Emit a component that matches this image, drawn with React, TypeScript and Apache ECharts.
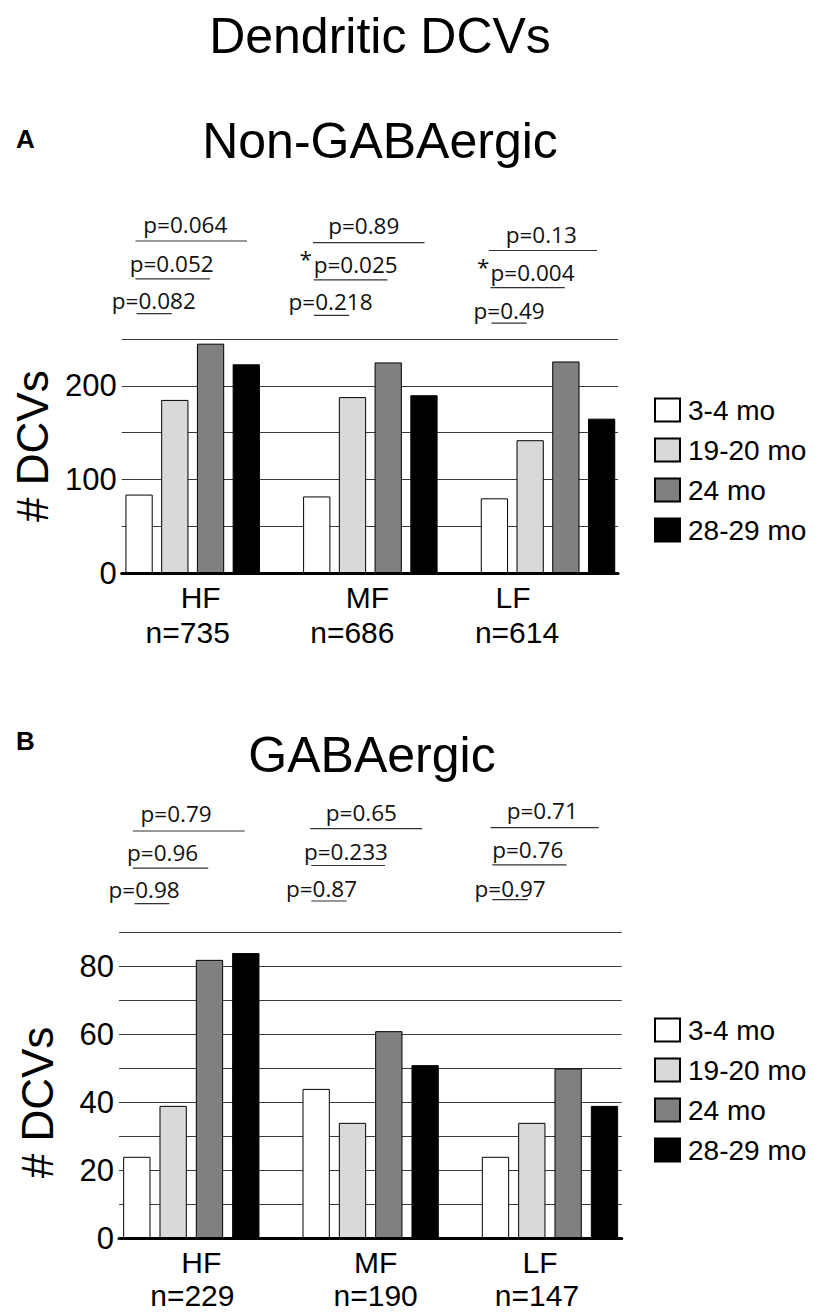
import React, { useEffect, useRef } from "react";
import * as echarts from "echarts";

// ---------------- DATA ----------------
const categories = ["HF", "MF", "LF"];
const ageGroups = ["3-4 mo", "19-20 mo", "24 mo", "28-29 mo"];

// Panel A: Non-GABAergic
const nonGabaN = [735, 686, 614];
const nonGaba3to4 = [84, 82, 80];
const nonGaba19to20 = [185, 188, 142];
const nonGaba24 = [245, 225, 226];
const nonGaba28to29 = [223, 190, 165];
const nonGabaYLabels = [0, 100, 200];
const nonGabaYMax = 250;
const nonGabaYStep = 50;
// per category: comparisons of 3-4 mo vs 19-20, vs 24, vs 28-29
const nonGabaP = [
  ["p=0.082", "p=0.052", "p=0.064"],
  ["p=0.218", "p=0.025", "p=0.89"],
  ["p=0.49", "p=0.004", "p=0.13"],
];
const nonGabaSig = [
  [false, false, false],
  [false, true, false],
  [false, true, false],
];

// Panel B: GABAergic
const gabaN = [229, 190, 147];
const gaba3to4 = [24, 44, 24];
const gaba19to20 = [39, 34, 34];
const gaba24 = [82, 61, 50];
const gaba28to29 = [84, 51, 39];
const gabaYLabels = [0, 20, 40, 60, 80];
const gabaYMax = 90;
const gabaYStep = 10;
const gabaP = [
  ["p=0.98", "p=0.96", "p=0.79"],
  ["p=0.87", "p=0.233", "p=0.65"],
  ["p=0.97", "p=0.76", "p=0.71"],
];
const gabaSig = [
  [false, false, false],
  [false, false, false],
  [false, false, false],
];

const mainTitle = "Dendritic DCVs";
const yAxisTitle = "# DCVs";

// ---------------- STYLE / LAYOUT ----------------
const FONT = '"Liberation Sans", Arial, Helvetica, sans-serif';
const PFONT = '"Open Sans", "Liberation Sans", Arial, sans-serif';
const AGE_COLORS = ["#ffffff", "#d9d9d9", "#808080", "#000000"];
const GRID_COLOR = "#3a3a3a";
const P_SIZE = 22.5;

const layoutA = {
  gridTop: 339,
  gridBottom: 573.3,
  lineLeft: 121.7,
  lineRight: 618,
  barLeft: 103.85,
  barRight: 636.85,
  barCategoryGap: "24.3%",
  barGap: "31%",
  legendTop: 396,
  namePad: [0, 0, 0, 20],
  labelMargin: 7,
  labelLineHeight: 35,
  labelShift: [
    [8, -5],
    [-3, -18],
    [-35, -31],
  ],
  letter: { x: 16, base: 148 },
  title: { x: 380, base: 158 },
  // [textLeft, textBaseline, lineX1, lineX2, lineY, starX]
  ann: [
    [
      [111.8, 309.6, 136.5, 171.7, 313.7, 0],
      [129.7, 272.1, 135.5, 209.9, 278.9, 0],
      [143.3, 233.6, 135.5, 247.1, 241.0, 0],
    ],
    [
      [288.6, 310.3, 313.7, 349.2, 315.4, 0],
      [313.7, 273.1, 313.7, 387.4, 279.9, 299.5],
      [328.2, 234.2, 313.0, 424.5, 242.7, 0],
    ],
    [
      [473.6, 318.7, 491.5, 526.7, 323.1, 0],
      [490.5, 281.6, 490.5, 564.8, 287.6, 477],
      [505.7, 242.7, 488.8, 597.0, 250.5, 0],
    ],
  ],
};

const layoutB = {
  gridTop: 932.7,
  gridBottom: 1238.3,
  lineLeft: 119,
  lineRight: 621.7,
  barLeft: 101.65,
  barRight: 639.65,
  barCategoryGap: "24%",
  barGap: "33%",
  legendTop: 1016,
  namePad: [0, 34, 0, 0],
  labelMargin: 8,
  labelLineHeight: 33,
  labelShift: [
    [10, 1],
    [5, 5],
    [-10, -13],
  ],
  letter: { x: 16, base: 750 },
  title: { x: 372, base: 772 },
  ann: [
    [
      [108.5, 898.6, 134.5, 169.3, 903.7, 0],
      [127.0, 861.4, 132.8, 208.2, 868.2, 0],
      [140.6, 822.5, 132.8, 244.7, 831.0, 0],
    ],
    [
      [285.9, 896.9, 311.3, 346.8, 901.0, 0],
      [303.9, 859.7, 311.3, 385.0, 865.5, 0],
      [325.8, 820.9, 310.3, 422.2, 828.6, 0],
    ],
    [
      [474.6, 896.9, 492.2, 527.7, 899.6, 0],
      [492.2, 858.0, 492.2, 566.5, 864.8, 0],
      [506.7, 819.2, 490.5, 598.6, 827.6, 0],
    ],
  ],
};

const panels = [
  {
    letter: "A",
    title: "Non-GABAergic",
    values: [nonGaba3to4, nonGaba19to20, nonGaba24, nonGaba28to29],
    n: nonGabaN,
    yLabels: nonGabaYLabels,
    yMax: nonGabaYMax,
    yStep: nonGabaYStep,
    p: nonGabaP,
    sig: nonGabaSig,
    L: layoutA,
  },
  {
    letter: "B",
    title: "GABAergic",
    values: [gaba3to4, gaba19to20, gaba24, gaba28to29],
    n: gabaN,
    yLabels: gabaYLabels,
    yMax: gabaYMax,
    yStep: gabaYStep,
    p: gabaP,
    sig: gabaSig,
    L: layoutB,
  },
];

const shiftPad = (dx: number) =>
  dx >= 0 ? [0, 0, 0, 2 * dx] : [0, -2 * dx, 0, 0];

function buildOption() {
  const grid: any[] = [];
  const xAxis: any[] = [];
  const yAxis: any[] = [];
  const series: any[] = [];
  const legend: any[] = [];
  const graphic: any[] = [];

  graphic.push({
    type: "text",
    x: 380,
    y: 53 - 0.35 * 50,
    style: {
      text: mainTitle,
      fontSize: 50,
      fontFamily: FONT,
      fill: "#000",
      textAlign: "center",
      textVerticalAlign: "middle",
    },
  });

  panels.forEach((pn, pi) => {
    const L = pn.L;
    const h = L.gridBottom - L.gridTop;
    const gLine = pi * 2;
    const gBar = pi * 2 + 1;

    grid.push({
      left: L.lineLeft,
      top: L.gridTop,
      width: L.lineRight - L.lineLeft,
      height: h,
      containLabel: false,
    });
    grid.push({
      left: L.barLeft,
      top: L.gridTop,
      width: L.barRight - L.barLeft,
      height: h,
      containLabel: false,
    });

    xAxis.push({
      gridIndex: gLine,
      type: "category",
      data: [""],
      z: 5,
      axisLine: { show: true, lineStyle: { color: "#000", width: 3 } },
      axisTick: { show: false },
      axisLabel: { show: false },
      splitLine: { show: false },
    });

    const rich: any = {};
    categories.forEach((_, ci) => {
      rich["h" + ci] = {
        fontSize: 30,
        lineHeight: L.labelLineHeight,
        fontFamily: FONT,
        color: "#000",
        align: "center",
        padding: shiftPad(L.labelShift[ci][0]),
      };
      rich["n" + ci] = {
        fontSize: 30,
        lineHeight: L.labelLineHeight,
        fontFamily: FONT,
        color: "#000",
        align: "center",
        padding: shiftPad(L.labelShift[ci][1]),
      };
    });

    xAxis.push({
      gridIndex: gBar,
      type: "category",
      data: categories,
      axisLine: { show: false },
      axisTick: { show: false },
      splitLine: { show: false },
      axisLabel: {
        interval: 0,
        margin: L.labelMargin,
        formatter: (val: string, idx: number) =>
          `{h${idx}|${val}}\n{n${idx}|n=${pn.n[idx]}}`,
        rich,
      },
    });

    yAxis.push({
      gridIndex: gLine,
      type: "value",
      min: 0,
      max: pn.yMax,
      interval: pn.yStep,
      axisLine: { show: false },
      axisTick: { show: false },
      splitLine: { show: true, lineStyle: { color: GRID_COLOR, width: 1 } },
      axisLabel: {
        formatter: (v: number) => (pn.yLabels.includes(v) ? String(v) : ""),
        fontSize: 31,
        fontFamily: FONT,
        color: "#000",
        margin: 5,
      },
      name: yAxisTitle,
      nameLocation: "middle",
      nameRotate: 90,
      nameGap: 60,
      nameTextStyle: {
        fontSize: 44,
        fontFamily: FONT,
        color: "#000",
        padding: L.namePad,
      },
    });
    yAxis.push({
      gridIndex: gBar,
      type: "value",
      min: 0,
      max: pn.yMax,
      interval: pn.yStep,
      show: false,
    });

    pn.values.forEach((vals, si) => {
      series.push({
        type: "bar",
        name: ageGroups[si],
        xAxisIndex: gBar,
        yAxisIndex: gBar,
        data: vals,
        barGap: L.barGap,
        barCategoryGap: L.barCategoryGap,
        itemStyle: {
          color: AGE_COLORS[si],
          borderColor: "#000",
          borderWidth: 1,
        },
        emphasis: { disabled: true },
      });
    });

    legend.push({
      data: ageGroups,
      orient: "vertical",
      left: 654,
      top: L.legendTop,
      padding: 0,
      itemWidth: 25,
      itemHeight: 23,
      itemGap: 12,
      icon: "rect",
      selectedMode: false,
      textStyle: {
        fontSize: 28,
        fontFamily: FONT,
        color: "#000",
        lineHeight: 23,
        padding: [0, 0, 0, 3],
      },
    });

    // panel letter
    graphic.push({
      type: "text",
      x: L.letter.x,
      y: L.letter.base - 0.35 * 26,
      style: {
        text: pn.letter,
        fontSize: 26,
        fontWeight: "bold",
        fontFamily: FONT,
        fill: "#000",
        textAlign: "left",
        textVerticalAlign: "middle",
      },
    });
    // panel title
    graphic.push({
      type: "text",
      x: L.title.x,
      y: L.title.base - 0.35 * 50,
      style: {
        text: pn.title,
        fontSize: 50,
        fontFamily: FONT,
        fill: "#000",
        textAlign: "center",
        textVerticalAlign: "middle",
      },
    });

    // p-value annotations
    pn.p.forEach((row, ci) => {
      row.forEach((txt, k) => {
        const a = L.ann[ci][k];
        graphic.push({
          type: "text",
          x: a[0],
          y: a[1] - 0.385 * P_SIZE,
          style: {
            text: txt,
            fontSize: P_SIZE,
            fontFamily: PFONT,
            fill: "#111",
            textAlign: "left",
            textVerticalAlign: "middle",
          },
        });
        graphic.push({
          type: "line",
          shape: { x1: a[2], y1: a[4], x2: a[3], y2: a[4] },
          style: { stroke: "#333", lineWidth: 1.2 },
        });
        if (pn.sig[ci][k]) {
          graphic.push({
            type: "text",
            x: a[5],
            y: a[1] - 0.385 * P_SIZE - 6,
            style: {
              text: "*",
              fontSize: P_SIZE,
              fontFamily: PFONT,
              fill: "#111",
              textAlign: "left",
              textVerticalAlign: "middle",
            },
          });
        }
      });
    });
  });

  return {
    animation: false,
    backgroundColor: "#ffffff",
    grid,
    xAxis,
    yAxis,
    series,
    legend,
    graphic,
  };
}

export default function App() {
  const ref = useRef<HTMLDivElement>(null);
  useEffect(() => {
    if (!ref.current) return;
    const chart = echarts.init(ref.current, undefined, { renderer: "svg" });
    chart.setOption(buildOption() as any);
    return () => chart.dispose();
  }, []);
  return (
    <div
      ref={ref}
      style={{
        position: "absolute",
        left: 0,
        top: 0,
        width: 826,
        height: 1316,
        background: "#fff",
      }}
    />
  );
}
